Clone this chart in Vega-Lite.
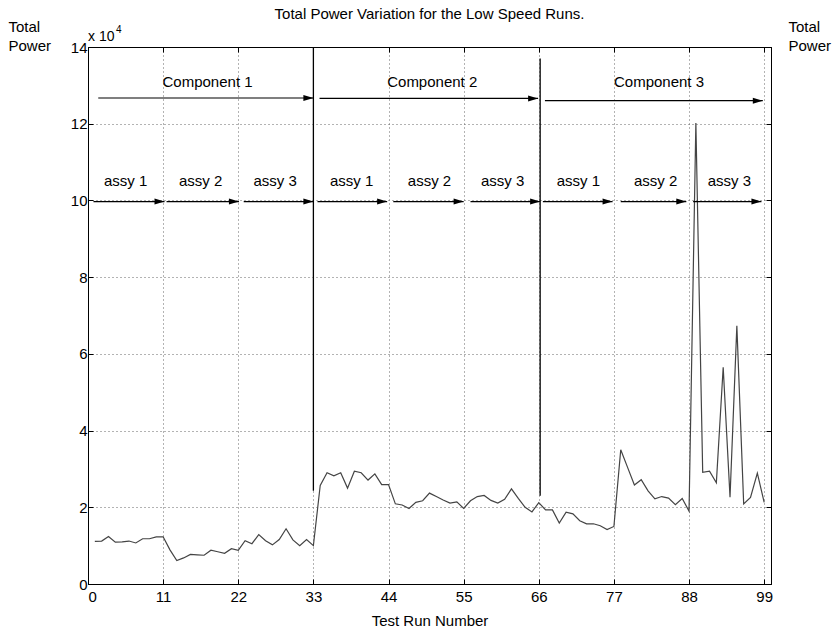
{
  "$schema": "https://vega.github.io/schema/vega-lite/v6.json",
  "width": 683,
  "height": 537,
  "autosize": {"type": "none"},
  "padding": {"left": 88, "top": 47, "right": 64, "bottom": 48},
  "background": "white",
  "title": {"text": "Total Power Variation for the Low Speed Runs.", "fontSize": 15, "fontWeight": "normal", "font": "Liberation Sans", "color": "black", "anchor": "middle", "offset": 8, "baseline": "bottom", "dy": 26},
  "config": {
    "view": {"stroke": "black", "strokeWidth": 1},
    "font": "Liberation Sans",
    "axis": {"labelFont": "Liberation Sans", "titleFont": "Liberation Sans", "labelFontSize": 15, "titleFontSize": 15, "titleFontWeight": "normal", "labelColor": "black", "titleColor": "black", "domainColor": "black", "tickColor": "black", "tickSize": -5, "labelPadding": 10}
  },
  "datasets": {
    "runs": [
      {"run": 1, "power": 11100}, {"run": 2, "power": 11200}, {"run": 3, "power": 12400}, {"run": 4, "power": 10900}, {"run": 5, "power": 11000},
      {"run": 6, "power": 11200}, {"run": 7, "power": 10700}, {"run": 8, "power": 11800}, {"run": 9, "power": 11800}, {"run": 10, "power": 12300},
      {"run": 11, "power": 12300}, {"run": 12, "power": 8900}, {"run": 13, "power": 6100}, {"run": 14, "power": 6800}, {"run": 15, "power": 7700},
      {"run": 16, "power": 7600}, {"run": 17, "power": 7500}, {"run": 18, "power": 8800}, {"run": 19, "power": 8400}, {"run": 20, "power": 8000},
      {"run": 21, "power": 9200}, {"run": 22, "power": 8800}, {"run": 23, "power": 11300}, {"run": 24, "power": 10500}, {"run": 25, "power": 12900},
      {"run": 26, "power": 11300}, {"run": 27, "power": 10200}, {"run": 28, "power": 11600}, {"run": 29, "power": 14400}, {"run": 30, "power": 11500},
      {"run": 31, "power": 10000}, {"run": 32, "power": 11600}, {"run": 33, "power": 10000}, {"run": 34, "power": 25700}, {"run": 35, "power": 29000},
      {"run": 36, "power": 28200}, {"run": 37, "power": 29000}, {"run": 38, "power": 25000}, {"run": 39, "power": 29400}, {"run": 40, "power": 29000},
      {"run": 41, "power": 27100}, {"run": 42, "power": 28700}, {"run": 43, "power": 25900}, {"run": 44, "power": 25900}, {"run": 45, "power": 20900},
      {"run": 46, "power": 20600}, {"run": 47, "power": 19700}, {"run": 48, "power": 21300}, {"run": 49, "power": 21700}, {"run": 50, "power": 23700},
      {"run": 51, "power": 22800}, {"run": 52, "power": 21900}, {"run": 53, "power": 21100}, {"run": 54, "power": 21400}, {"run": 55, "power": 19700},
      {"run": 56, "power": 21700}, {"run": 57, "power": 22800}, {"run": 58, "power": 23100}, {"run": 59, "power": 21800}, {"run": 60, "power": 21100},
      {"run": 61, "power": 22100}, {"run": 62, "power": 24800}, {"run": 63, "power": 22300}, {"run": 64, "power": 20000}, {"run": 65, "power": 18800},
      {"run": 66, "power": 21200}, {"run": 67, "power": 19300}, {"run": 68, "power": 19300}, {"run": 69, "power": 15900}, {"run": 70, "power": 18700},
      {"run": 71, "power": 18300}, {"run": 72, "power": 16500}, {"run": 73, "power": 15700}, {"run": 74, "power": 15700}, {"run": 75, "power": 15200},
      {"run": 76, "power": 14200}, {"run": 77, "power": 15000}, {"run": 78, "power": 35000}, {"run": 79, "power": 30400}, {"run": 80, "power": 25800},
      {"run": 81, "power": 27200}, {"run": 82, "power": 24300}, {"run": 83, "power": 22200}, {"run": 84, "power": 22800}, {"run": 85, "power": 22400},
      {"run": 86, "power": 20700}, {"run": 87, "power": 22300}, {"run": 88, "power": 19000}, {"run": 89, "power": 120200}, {"run": 90, "power": 29100},
      {"run": 91, "power": 29400}, {"run": 92, "power": 26400}, {"run": 93, "power": 56500}, {"run": 94, "power": 22600}, {"run": 95, "power": 67300},
      {"run": 96, "power": 20900}, {"run": 97, "power": 22600}, {"run": 98, "power": 28900}, {"run": 99, "power": 21300}
    ],
    "dividers": [
      {"run": 33, "lo": 24300, "hi": 140000},
      {"run": 66.2, "lo": 23000, "hi": 137000}
    ],
    "arrows": [
      {"start": 1.5, "end": 33, "level": 126700},
      {"start": 33.9, "end": 65.9, "level": 126600},
      {"start": 66.9, "end": 98.8, "level": 126000},
      {"start": 0.8, "end": 11.2, "level": 99700},
      {"start": 11.5, "end": 22.1, "level": 99700},
      {"start": 22.8, "end": 33, "level": 99700},
      {"start": 33.6, "end": 43.8, "level": 99700},
      {"start": 44.7, "end": 55, "level": 99700},
      {"start": 56, "end": 66.2, "level": 99700},
      {"start": 66.6, "end": 76.8, "level": 99700},
      {"start": 78, "end": 87.6, "level": 99700},
      {"start": 88.6, "end": 98.6, "level": 99700}
    ],
    "labels": [
      {"run": 17.5, "level": 131000, "text": "Component 1"},
      {"run": 50.4, "level": 131000, "text": "Component 2"},
      {"run": 83.6, "level": 131000, "text": "Component 3"},
      {"run": 5.5, "level": 105000, "text": "assy 1"},
      {"run": 16.5, "level": 105000, "text": "assy 2"},
      {"run": 27.4, "level": 105000, "text": "assy 3"},
      {"run": 38.6, "level": 105000, "text": "assy 1"},
      {"run": 50.0, "level": 105000, "text": "assy 2"},
      {"run": 60.7, "level": 105000, "text": "assy 3"},
      {"run": 71.8, "level": 105000, "text": "assy 1"},
      {"run": 83.1, "level": 105000, "text": "assy 2"},
      {"run": 93.9, "level": 105000, "text": "assy 3"}
    ],
    "corner": [{"run": 0, "level": 140000}]
  },
  "resolve": {"axis": {"x": "independent", "y": "independent"}},
  "layer": [
    {
      "data": {"name": "runs"},
      "mark": {"type": "line", "color": "#444444", "strokeWidth": 1.2},
      "encoding": {
        "x": {"field": "run", "type": "quantitative", "scale": {"domain": [0, 100], "nice": false, "zero": false},
              "axis": {"orient": "bottom", "values": [0, 11, 22, 33, 44, 55, 66, 77, 88, 99], "title": "Test Run Number", "titlePadding": 9,
                       "grid": true, "gridDash": [1, 3], "gridColor": "#666666", "gridWidth": 1}},
        "y": {"field": "power", "type": "quantitative", "scale": {"domain": [0, 140000], "nice": false},
              "axis": {"orient": "left", "values": [0, 20000, 40000, 60000, 80000, 100000, 120000, 140000], "labelExpr": "datum.value / 10000", "labelPadding": 6,
                       "grid": true, "gridDash": [1, 3], "gridColor": "#666666", "gridWidth": 1,
                       "title": ["Total", "Power"], "titleAngle": 0, "titleAlign": "left", "titleBaseline": "top", "titleX": -80, "titleY": -28, "titleLineHeight": 19}}
      }
    },
    {
      "data": {"name": "dividers"},
      "mark": {"type": "rule", "color": "black", "strokeWidth": 1.3},
      "encoding": {
        "x": {"field": "run", "type": "quantitative",
              "axis": {"orient": "top", "values": [0, 11, 22, 33, 44, 55, 66, 77, 88, 99], "labels": false, "title": null, "grid": false}},
        "y": {"field": "lo", "type": "quantitative",
              "axis": {"orient": "right", "values": [0, 20000, 40000, 60000, 80000, 100000, 120000, 140000], "labels": false, "grid": false,
                       "title": ["Total", "Power"], "titleAngle": 0, "titleAlign": "left", "titleBaseline": "top", "titleX": 17, "titleY": -28, "titleLineHeight": 19}},
        "y2": {"field": "hi"}
      }
    },
    {
      "data": {"name": "arrows"},
      "mark": {"type": "rule", "color": "black", "strokeWidth": 1.2},
      "encoding": {
        "x": {"field": "start", "type": "quantitative", "axis": null},
        "x2": {"field": "end"},
        "y": {"field": "level", "type": "quantitative", "axis": null}
      }
    },
    {
      "data": {"name": "arrows"},
      "mark": {"type": "point", "shape": "M0,0L-2,-0.6L-2,0.6Z", "filled": true, "color": "black", "opacity": 1, "size": 100, "strokeWidth": 0},
      "encoding": {
        "x": {"field": "end", "type": "quantitative", "axis": null},
        "y": {"field": "level", "type": "quantitative", "axis": null}
      }
    },
    {
      "data": {"name": "labels"},
      "mark": {"type": "text", "fontSize": 15, "color": "black", "align": "center", "baseline": "middle", "font": "Liberation Sans"},
      "encoding": {
        "x": {"field": "run", "type": "quantitative", "axis": null},
        "y": {"field": "level", "type": "quantitative", "axis": null},
        "text": {"field": "text"}
      }
    },
    {
      "data": {"name": "corner"},
      "mark": {"type": "text", "text": "x 10", "fontSize": 14, "color": "black", "align": "left", "baseline": "alphabetic", "dx": 0, "dy": -6, "font": "Liberation Sans"},
      "encoding": {
        "x": {"field": "run", "type": "quantitative", "axis": null},
        "y": {"field": "level", "type": "quantitative", "axis": null}
      }
    },
    {
      "data": {"name": "corner"},
      "mark": {"type": "text", "text": "4", "fontSize": 10, "color": "black", "align": "left", "baseline": "alphabetic", "dx": 28, "dy": -14, "font": "Liberation Sans"},
      "encoding": {
        "x": {"field": "run", "type": "quantitative", "axis": null},
        "y": {"field": "level", "type": "quantitative", "axis": null}
      }
    }
  ]
}
